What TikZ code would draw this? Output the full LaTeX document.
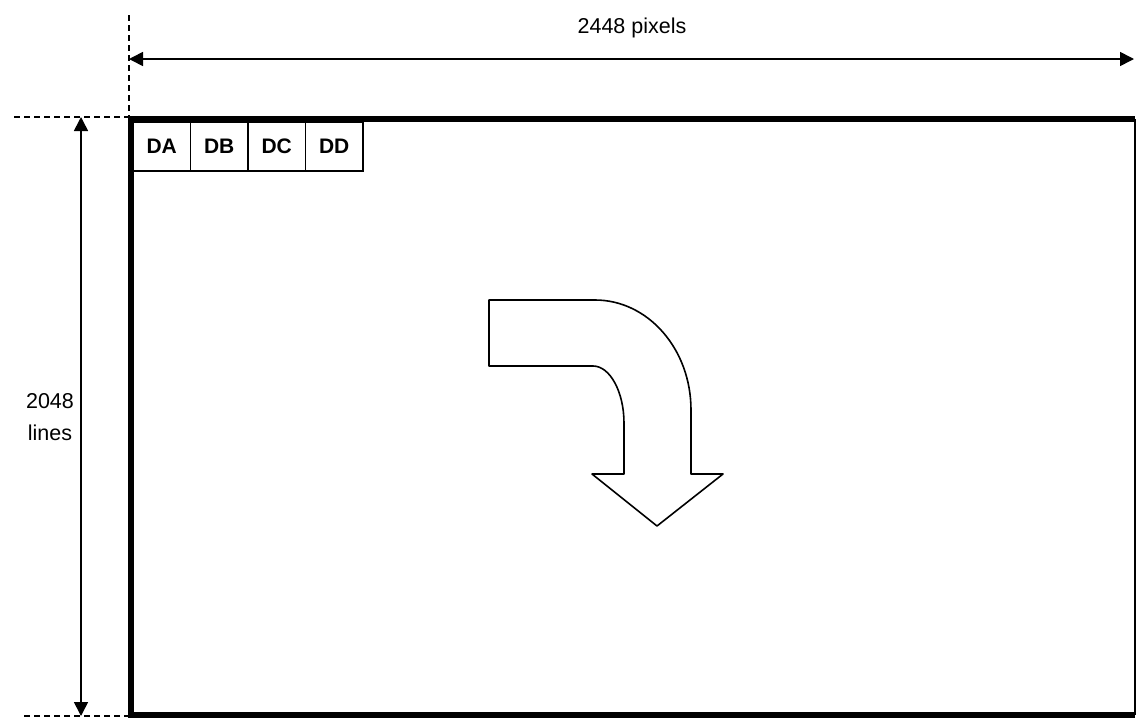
\documentclass[tikz,border=0pt]{standalone}
\usepackage{fontspec}
\setmainfont{Liberation Sans}
\usetikzlibrary{arrows.meta,positioning}

\begin{document}
\begin{tikzpicture}[
            x=1pt, y=-1pt,
            frame/.style={line width=6pt},
            edge/.style={line width=1.3pt},
            guide/.style={line width=1.7pt, dash pattern=on 6pt off 4pt},
            dim/.style={{Triangle[length=14pt,width=14pt]}-{Triangle[length=14pt,width=14pt]}, line width=1.6pt},
            cell/.style={rectangle, draw, line width=1.2pt, outer sep=0pt, minimum width=57.5pt, minimum height=49pt, inner sep=0pt, font=\fontsize{21}{24}\selectfont\bfseries},
            label/.style={font=\fontsize{21.5}{32}\selectfont, align=center},
            turnarrow/.style={line width=1.6pt, line join=round, fill=white}
        ]
            \useasboundingbox (0,0) rectangle (1136,718);
            % frame corners
            \coordinate (tl) at (131,119);
            \coordinate (tr) at (1135,119);
            \coordinate (bl) at (131,715);
            \coordinate (br) at (1135,715);
            \draw[frame] (tr) -- (tl) -- (bl) -- (br);
            \draw[edge] (tr) -- (br);

            % guides and dimensions
            \coordinate (vtop) at (129,15);
            \coordinate (vbot) at (129,116);
            \coordinate (htop) at (14,117);
            \coordinate (hbot) at (24,716);
            \draw[guide] (vtop) -- (vbot);
            \draw[guide] (htop) -- (128,117);
            \draw[guide] (hbot) -- (128,716);

            \coordinate (wa) at (129,59);
            \coordinate (wb) at (1134,59);
            \coordinate (ha) at (81,117);
            \coordinate (hb) at (81,716);
            \draw[dim] (wa) -- (wb);
            \draw[dim] (ha) -- (hb);
            \node[label] (width) at (632,28) {2448 pixels};
            \node[label] (height) at (50,417) {2048\\lines};

            % data cells
            \node[cell, anchor=north west] (da) at (133,122) {DA};
            \node[cell, right=0pt of da] (db) {DB};
            \node[cell, right=0pt of db] (dc) {DC};
            \node[cell, right=0pt of dc] (dd) {DD};

            % scan direction
            \draw[turnarrow] (489,300) -- (595,300)
                .. controls (648,300) and (691,349) .. (691,410)
                -- (691,474) -- (723,474) -- (657,526) -- (592,474) -- (624,474)
                -- (624,423) .. controls (624,392) and (610,366) .. (593,366)
                -- (489,366) -- cycle;
        \end{tikzpicture}
\end{document}
